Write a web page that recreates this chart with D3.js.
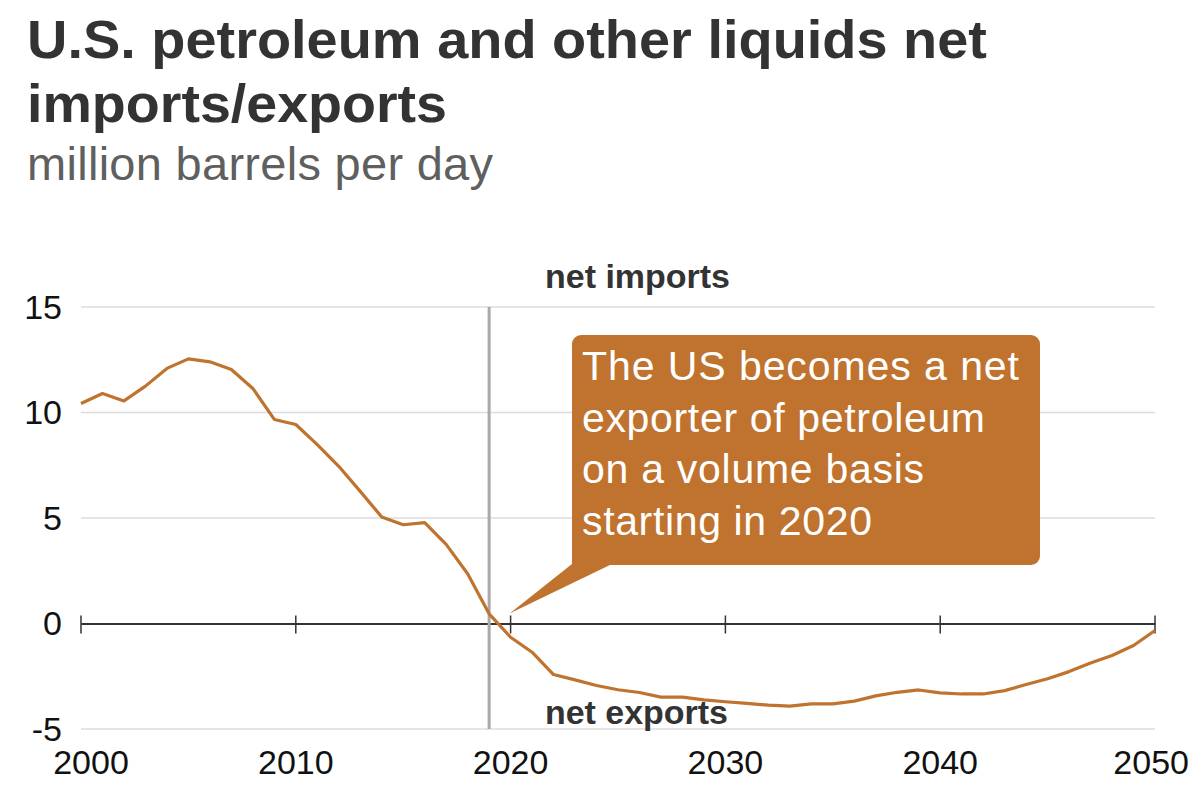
<!DOCTYPE html>
<html>
<head>
<meta charset="utf-8">
<script src="https://cdn.jsdelivr.net/npm/d3@7"></script>
<style>
  html, body { margin: 0; padding: 0; background: #fff; }
  svg { display: block; font-family: "Liberation Sans", Arial, Helvetica, sans-serif; }
</style>
</head>
<body>
<svg id="chart" width="1191" height="793"></svg>
<script>
// ---- Data ----
const years = d3.range(2000, 2051);
const netImports = [
  10.43, 10.90, 10.55, 11.25, 12.09, 12.54, 12.40, 12.04, 11.14, 9.67,
  9.43, 8.48, 7.45, 6.26, 5.05, 4.68, 4.78, 3.75, 2.36, 0.46,
  -0.65, -1.36, -2.42, -2.67, -2.94, -3.14, -3.27, -3.49, -3.49, -3.62,
  -3.71, -3.79, -3.87, -3.92, -3.81, -3.81, -3.68, -3.43, -3.26, -3.15,
  -3.29, -3.34, -3.34, -3.18, -2.89, -2.62, -2.28, -1.87, -1.52, -1.04,
  -0.33
];
const xTicks = [2000, 2010, 2020, 2030, 2040, 2050];
const yTicks = [-5, 0, 5, 10, 15];
const markerYear = 2019;
const titleLines = ["U.S. petroleum and other liquids net", "imports/exports"];
const subtitle = "million barrels per day";
const calloutLines = ["The US becomes a net", "exporter of petroleum", "on a volume basis", "starting in 2020"];

const orange = "#BF732E";
const svg = d3.select("#chart");

const x = d3.scaleLinear().domain([2000, 2050]).range([81, 1155]);
const y = d3.scaleLinear().domain([-5, 15]).range([729, 307]);

// Title
const titleWidths = [960, 420];
titleLines.forEach((t, i) => {
  svg.append("text")
    .attr("x", 27).attr("y", 58 + i * 64)
    .attr("font-size", 54).attr("font-weight", "bold")
    .attr("fill", "#333333")
    .attr("textLength", titleWidths[i])
    .attr("lengthAdjust", "spacingAndGlyphs")
    .text(t);
});
svg.append("text")
  .attr("x", 27).attr("y", 180)
  .attr("font-size", 47).attr("fill", "#5f5f5f")
  .attr("textLength", 466)
  .text(subtitle);

// Gridlines
svg.append("g")
  .selectAll("line")
  .data(yTicks.filter(d => d !== 0))
  .join("line")
  .attr("x1", x(2000)).attr("x2", x(2050))
  .attr("y1", d => y(d)).attr("y2", d => y(d))
  .attr("stroke", "#dcdcdc").attr("stroke-width", 1.5);

// Y labels
svg.append("g")
  .selectAll("text")
  .data(yTicks)
  .join("text")
  .attr("x", 62).attr("y", d => y(d))
  .attr("dy", "0.35em")
  .attr("text-anchor", "end")
  .attr("font-size", 34).attr("fill", "#111")
  .text(d => d);

// Zero axis with ticks
const xAxis = d3.axisBottom(x).tickValues(xTicks).tickSize(0).tickFormat("");
const axisG = svg.append("g").attr("transform", `translate(0,${y(0)})`).call(xAxis);
axisG.select(".domain").attr("stroke", "#333").attr("stroke-width", 2);
svg.append("g")
  .selectAll("line")
  .data(xTicks)
  .join("line")
  .attr("x1", d => x(d)).attr("x2", d => x(d))
  .attr("y1", y(0) - 8).attr("y2", y(0) + 10)
  .attr("stroke", "#333").attr("stroke-width", 1.5);

// X labels
svg.append("g")
  .selectAll("text")
  .data(xTicks)
  .join("text")
  .attr("x", d => d === 2000 ? x(d) + 10 : (d === 2050 ? 1189 : x(d)))
  .attr("y", 774)
  .attr("text-anchor", d => d === 2050 ? "end" : "middle")
  .attr("font-size", 34).attr("fill", "#111")
  .text(d => d);

// Vertical marker
svg.append("line")
  .attr("x1", x(markerYear)).attr("x2", x(markerYear))
  .attr("y1", y(15)).attr("y2", y(-5))
  .attr("stroke", "#a9a9a9").attr("stroke-width", 3);

// Line
const line = d3.line().x((d, i) => x(years[i])).y(d => y(d));
svg.append("path")
  .datum(netImports)
  .attr("d", line)
  .attr("fill", "none")
  .attr("stroke", orange)
  .attr("stroke-width", 3.2)
  .attr("stroke-linejoin", "round");

// Labels net imports / exports
svg.append("text")
  .attr("x", 545).attr("y", 288)
  .attr("font-size", 33).attr("font-weight", "bold").attr("fill", "#333")
  .attr("textLength", 185).attr("lengthAdjust", "spacingAndGlyphs")
  .text("net imports");
svg.append("text")
  .attr("x", 545).attr("y", 724)
  .attr("font-size", 33).attr("font-weight", "bold").attr("fill", "#333")
  .attr("textLength", 183).attr("lengthAdjust", "spacingAndGlyphs")
  .text("net exports");

// Callout
const cg = svg.append("g");
cg.append("rect")
  .attr("x", 572).attr("y", 335).attr("width", 468).attr("height", 230)
  .attr("rx", 9).attr("fill", orange);
cg.append("rect")
  .attr("x", 572).attr("y", 540).attr("width", 30).attr("height", 25)
  .attr("fill", orange);
cg.append("path")
  .attr("d", `M572,564 L612,564 L${x(2020) - 1},${y(0.47)} Z`)
  .attr("fill", orange);
const calloutWidths = [437, 403, 342, 290];
calloutLines.forEach((t, i) => {
  cg.append("text")
    .attr("x", 582).attr("y", 380 + i * 51.7)
    .attr("font-size", 41).attr("fill", "#fff")
    .attr("textLength", calloutWidths[i])
    .text(t);
});
</script>
</body>
</html>
